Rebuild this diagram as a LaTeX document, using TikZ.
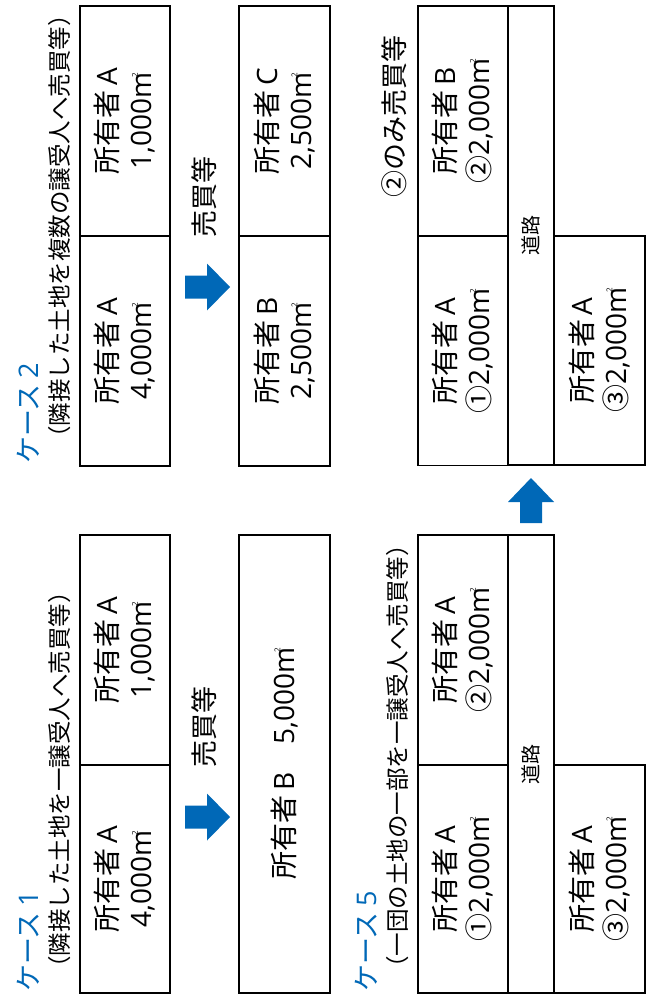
\documentclass[tikz,border=0pt]{standalone}
\usepackage{fontspec}
\setmainfont{Noto Sans CJK JP}
\newfontfamily\latin{Open Sans}

\definecolor{caseblue}{RGB}{0,104,183}
\newcommand\sqm{m\kern-.18em\raisebox{.5em}{\fontsize{8}{8}\selectfont 2}}
\newcommand\owner[1]{所有者\,{\latin #1}}

\begin{document}
\begin{tikzpicture}
[
    x=1pt, y=-1pt,
    parcel/.style={draw, line width=1.3pt, rotate=90, align=center, inner sep=0pt, font=\fontsize{28}{34}\selectfont},
    road/.style={parcel, font=\fontsize{20}{20}\selectfont},
    casetitle/.style={rotate=90, anchor=west, inner sep=0pt, text=caseblue, font=\fontsize{27}{27}\selectfont},
    casenote/.style={rotate=90, anchor=west, inner sep=0pt, font=\fontsize{23.5}{23.5}\selectfont},
    deal/.style={rotate=90, inner sep=0pt, font=\fontsize{27}{27}\selectfont},
    bigarrow/.style={fill=caseblue},
]
\useasboundingbox (0,0) rectangle (646,995);

% case 1
\node[casetitle] (t1) at (28,992) {ケース {\latin 1}};
\node[casenote] (n1) at (60,980) {（隣接した土地を一譲受人へ売買等）};
\node[parcel, minimum width=228pt, minimum height=90pt] (a1) at (125,879) {\owner{A}\\{\latin 4,000\sqm}};
\node[parcel, minimum width=230pt, minimum height=90pt] (a1u) at (125,650) {\owner{A}\\{\latin 1,000\sqm}};
\node[deal] (d1) at (204,727) {売買等};
\fill[bigarrow, shift={(207,817)}] (-22,-11.5) -- (0,-11.5) -- (0,-23.5) -- (23,0) -- (0,23.5) -- (0,11.5) -- (-22,11.5) -- cycle;
\node[parcel, minimum width=458pt, minimum height=91pt] (b1) at (284.5,764) {\owner{B}　{\latin 5,000\sqm}};

% case 2
\node[casetitle] (t2) at (28,464) {ケース {\latin 2}};
\node[casenote] (n2) at (60,450) {（隣接した土地を複数の譲受人へ売買等）};
\node[parcel, minimum width=230pt, minimum height=90pt] (a2) at (125,351) {\owner{A}\\{\latin 4,000\sqm}};
\node[parcel, minimum width=230pt, minimum height=90pt] (a2u) at (125,121) {\owner{A}\\{\latin 1,000\sqm}};
\node[deal] (d2) at (204,197) {売買等};
\fill[bigarrow, shift={(207,287)}] (-22,-11.5) -- (0,-11.5) -- (0,-23.5) -- (23,0) -- (0,23.5) -- (0,11.5) -- (-22,11.5) -- cycle;
\node[parcel, minimum width=230pt, minimum height=91pt] (b2) at (284.5,351) {\owner{B}\\{\latin 2,500\sqm}};
\node[parcel, minimum width=230pt, minimum height=91pt] (c2) at (284.5,121) {\owner{C}\\{\latin 2,500\sqm}};

% case 5
\node[casetitle] (t5) at (366,992) {ケース {\latin 5}};
\node[casenote] (n5) at (398,980) {（一団の土地の一部を一譲受人へ売買等）};
\node[parcel, minimum width=228pt, minimum height=90pt] (p1) at (463,879) {\owner{A}\\①{\latin 2,000\sqm}};
\node[parcel, minimum width=230pt, minimum height=90pt] (p2) at (463,650) {\owner{A}\\②{\latin 2,000\sqm}};
\node[road, minimum width=458pt, minimum height=46pt] (r5) at (531,764) {道路};
\node[parcel, minimum width=228pt, minimum height=91pt] (p3) at (599.5,879) {\owner{A}\\③{\latin 2,000\sqm}};
\fill[bigarrow, shift={(531,502)}, rotate=90] (-21,-11) -- (0,-11) -- (0,-23) -- (24,0) -- (0,23) -- (0,11) -- (-21,11) -- cycle;

% after
\node[deal] (d5) at (394,116) {②のみ売買等};
\node[parcel, minimum width=229pt, minimum height=90pt] (q1) at (463,351) {\owner{A}\\①{\latin 2,000\sqm}};
\node[parcel, minimum width=230pt, minimum height=90pt] (q2) at (463,121) {\owner{B}\\②{\latin 2,000\sqm}};
\node[road, minimum width=459pt, minimum height=46pt] (r6) at (531,235.5) {道路};
\node[parcel, minimum width=229pt, minimum height=91pt] (q3) at (599.5,350.5) {\owner{A}\\③{\latin 2,000\sqm}};
\end{tikzpicture}
\end{document}
